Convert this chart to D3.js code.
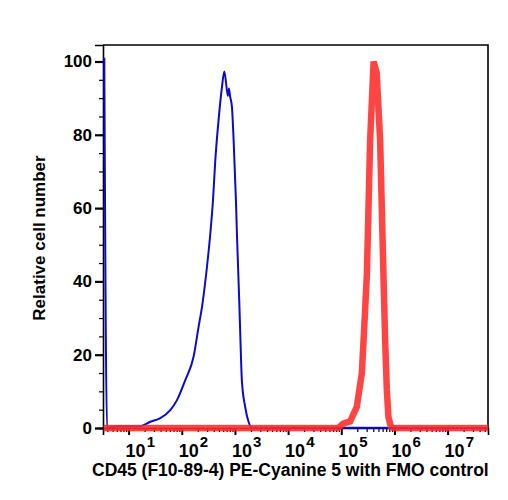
<!DOCTYPE html>
<html>
<head>
<meta charset="utf-8">
<script src="https://cdn.jsdelivr.net/npm/d3@7"></script>
<style>
  body { margin: 0; background: #fff; }
  text { font-family: "Liberation Sans", Arial, Helvetica, sans-serif; font-weight: bold; }
</style>
</head>
<body>
<svg id="chart" width="508" height="500"></svg>
<script>
// FMO control (blue) - intensity, relative count
const fmoX = [3.49, 3.93, 6.05, 16.6, 25.6, 39.4, 60.8, 81.3, 116, 167, 207, 240, 298, 344, 386, 427, 492,
  570, 631, 738, 770, 813, 878, 942, 1045, 1090, 1203, 1258, 1350, 1556, 1802, 2089, 5.75e7];
const fmoY = [101, 0, 0.5, 0.5, 1.7, 2.7, 4.9, 7.6, 13, 19.5, 27.6, 33, 44, 53, 62, 73, 84,
  93, 97.3, 90.6, 92.6, 90.4, 87.6, 79, 62, 53, 35, 26, 13, 5.8, 1.7, 0.1, 0];

// CD45 PE-Cyanine 5 stained (red)
const stainX = [3.4, 87500, 108600, 147000, 196000, 244000, 273000, 303000, 349000, 406000, 463000,
  538000, 621000, 668000, 719000, 771000, 855000, 944000, 5.75e7];
const stainY = [0, 0, 1.2, 1.8, 5.8, 15, 28.6, 42, 78.5, 100, 97,
  78.5, 42, 24, 10.4, 3, 0.4, 0, 0];

const yTicks = [0, 20, 40, 60, 80, 100];
const xDecades = [1, 2, 3, 4, 5, 6, 7];

const svg = d3.select('#chart');
const margin = {top: 45, right: 20, bottom: 72, left: 103};
const width = +svg.attr('width') - margin.left - margin.right;
const height = +svg.attr('height') - margin.top - margin.bottom;

const x = d3.scaleLog().domain([3.3, 5.75e7]).range([0, width]);
const y = d3.scaleLinear().domain([0, 104.5]).range([height, 0]);

let g = svg.append('g').attr('transform', 'translate(' + margin.left + ',' + margin.top + ')');

// frame top / right
g.append('path')
  .attr('d', `M0,0H${width}V${height}`)
  .attr('fill', 'none')
  .attr('stroke', '#000')
  .attr('stroke-width', 1.6);

// y axis: major + minor ticks
g.append('g')
  .call(d3.axisLeft(y).tickValues(d3.range(0, 101, 5)).tickSize(4).tickFormat(''))
  .call(a => a.select('.domain').remove())
  .selectAll('line').attr('stroke-width', 1.2);

let yAx = g.append('g')
  .call(d3.axisLeft(y).tickValues(yTicks).tickSize(8).tickPadding(3))
  .style('font-size', '17px');
yAx.select('.domain').attr('stroke-width', 1.6);
yAx.selectAll('line').attr('stroke-width', 2.2);
yAx.selectAll('text').attr('font-family', null).attr('font-size', null).attr('fill', '#000');

// x axis: log minor ticks
const minor = [];
xDecades.concat([0]).forEach(d => {
  for (let k = 2; k <= 9; k++) {
    const v = k * Math.pow(10, d);
    if (v >= x.domain()[0] && v <= x.domain()[1]) minor.push(v);
  }
});

g.append('g')
  .attr('transform', 'translate(0,' + height + ')')
  .call(d3.axisBottom(x).tickValues(minor).tickSize(4).tickFormat(''))
  .call(a => a.select('.domain').remove())
  .selectAll('line').attr('stroke-width', 1.2);

let xAx = g.append('g')
  .attr('transform', 'translate(0,' + height + ')')
  .call(d3.axisBottom(x).tickValues(xDecades.map(d => Math.pow(10, d))).tickSize(7).tickFormat(''));
xAx.select('.domain').attr('stroke-width', 1.6);
xAx.selectAll('line').attr('stroke-width', 2);

// decade labels as 10 with superscript
const lab = g.append('g').selectAll('text')
  .data(xDecades)
  .enter().append('text')
  .attr('x', d => x(Math.pow(10, d)) - 3)
  .attr('y', height + 29)
  .style('font-size', '18px');
lab.append('tspan').text('10');
lab.append('tspan').attr('dx', 1).attr('dy', -10).style('font-size', '15px').text(d => d);

// histograms
const line = d3.line()
  .x(d => x(d[0]))
  .y(d => y(d[1]));

g.append('path')
  .datum(d3.zip(fmoX, fmoY))
  .attr('d', line.curve(d3.curveMonotoneX))
  .attr('fill', 'none')
  .attr('stroke', '#0a0ad2')
  .attr('stroke-width', 2)
  .attr('stroke-linejoin', 'round');

g.append('path')
  .datum(d3.zip(stainX, stainY))
  .attr('d', line.curve(d3.curveLinear))
  .attr('fill', 'none')
  .attr('stroke', '#ff2a2a')
  .attr('stroke-opacity', 0.88)
  .attr('stroke-width', 6.5)
  .attr('stroke-linejoin', 'miter');

// axis titles
svg.append('text')
  .attr('x', 92)
  .attr('y', 476)
  .style('font-size', '17.5px')
  .text('CD45 (F10-89-4) PE-Cyanine 5 with FMO control');

svg.append('text')
  .attr('transform', 'translate(45,238) rotate(-90)')
  .attr('text-anchor', 'middle')
  .style('font-size', '17px')
  .text('Relative cell number');
</script>
</body>
</html>
